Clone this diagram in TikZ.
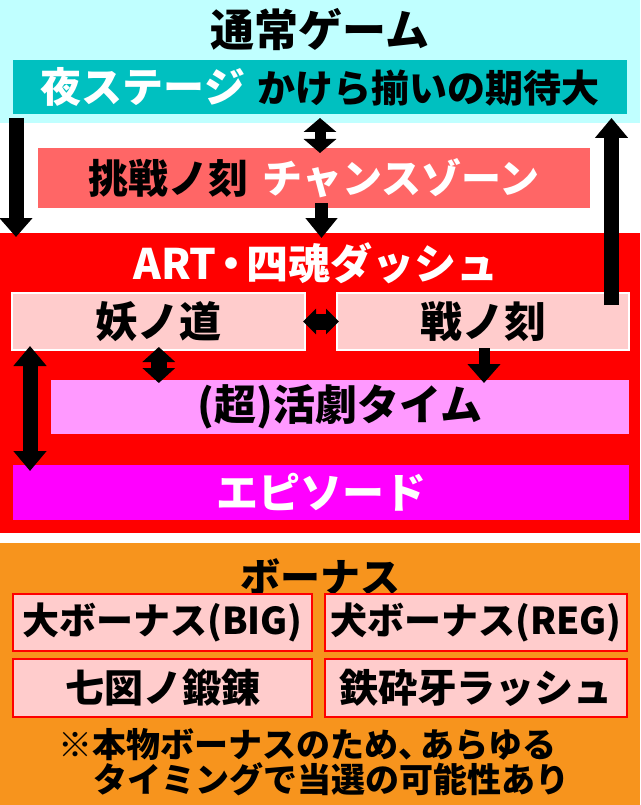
\documentclass[tikz,border=0pt]{standalone}
\usepackage{fontspec}
\setmainfont{Noto Sans CJK JP Black}
\usetikzlibrary{arrows.meta,calc}
\definecolor{cyanbg}{HTML}{C0FFFF}
\definecolor{tealbox}{HTML}{00C0C0}
\definecolor{salmon}{HTML}{FF6666}
\definecolor{pale}{HTML}{FFCCCC}
\definecolor{pinkbox}{HTML}{FF99FF}
\definecolor{magbox}{HTML}{FF00FF}
\definecolor{orangebg}{HTML}{F7941D}
\newcommand{\fs}[1]{\fontsize{#1}{#1}\selectfont}
\begin{document}
\begin{tikzpicture}[x=1pt,y=-1pt,
  box/.style={anchor=north west, inner sep=0pt, outer sep=0pt, align=center},
  ttl/.style={inner sep=0pt, outer sep=0pt},
  onearrow/.style n args={4}{line width=#1, -{Triangle[width=#2,length=#3]}},
  twoarrow/.style n args={3}{line width=#1, {Triangle[width=#2,length=#3]}-{Triangle[width=#2,length=#3]}}
]
\useasboundingbox (0,0) rectangle (640,805);
% backgrounds
\fill[white] (0,0) rectangle (640,805);
\fill[cyanbg] (0,0) rectangle (640,123);
\fill[red] (0,233) rectangle (640,533);
\fill[orangebg] (0,543) rectangle (640,805);

% normal game
\node[ttl] (tnormal) at (320,30) {\fs{44}通常ゲーム};
\node[box, fill=tealbox, minimum width=614pt, minimum height=54pt] (night) at (13,60)
  {{\fs{41}\color{white}夜ステージ}\hspace{12pt}{\fs{38}かけら揃いの期待大}};
\node[box, fill=salmon, minimum width=552pt, minimum height=60pt] (chance) at (38,148)
  {\fs{40}挑戦ノ刻\hspace{14pt}{\color{white}チャンスゾーン}};

% ART
\node[ttl, text=white] (tart) at (316,263) {\fs{42}ART\hspace{-6pt}・\hspace{-6pt}四魂ダッシュ};
\node[box, fill=pale, draw=white, line width=1.5pt, minimum width=293pt, minimum height=57pt] (ayakashi) at (12,293) {\fs{42}妖ノ道};
\node[box, fill=pale, draw=white, line width=1.5pt, minimum width=292pt, minimum height=57pt] (ikusa) at (337,293) {\fs{42}戦ノ刻};
\node[box, fill=pinkbox, minimum width=578pt, minimum height=54pt] (katsugeki) at (51,380) {\fs{42}(超)活劇タイム};
\node[box, fill=magbox, text=white, minimum width=616pt, minimum height=55pt] (episode) at (13,465) {\fs{42}エピソード};

% bonus
\node[ttl] (tbonus) at (320,577) {\fs{40}ボーナス};
\node[box, fill=pale, draw=red, line width=1.5pt, minimum width=299pt, minimum height=57pt] (big) at (13,594) {\fs{37}大ボーナス(BIG)};
\node[box, fill=pale, draw=red, line width=1.5pt, minimum width=302pt, minimum height=57pt] (reg) at (325,594) {\fs{37}犬ボーナス(REG)};
\node[box, fill=pale, draw=red, line width=1.5pt, minimum width=299pt, minimum height=58pt] (nanazu) at (13,659) {\fs{39}七図ノ鍛錬};
\node[box, fill=pale, draw=red, line width=1.5pt, minimum width=302pt, minimum height=58pt] (tessai) at (325,659) {\fs{39}鉄砕牙ラッシュ};
\node[ttl, anchor=west] (note1) at (58,745) {\fs{34}※本物ボーナスのため、\hspace{-12pt}あらゆる};
\node[ttl, anchor=west] (note2) at (93,779) {\fs{34}タイミングで当選の可能性あり};

% arrow end points
\coordinate (a1s) at (16,118);   \coordinate (a1e) at (16,237);
\coordinate (a2s) at (611.5,305); \coordinate (a2e) at (611.5,118);
\coordinate (a3s) at (320,118);  \coordinate (a3e) at (320,153);
\coordinate (a4s) at (321.5,203); \coordinate (a4e) at (321.5,238);
\coordinate (a5s) at (303,321.5); \coordinate (a5e) at (339,321.5);
\coordinate (a6s) at (158.8,347); \coordinate (a6e) at (158.8,383);
\coordinate (a7s) at (484,348);  \coordinate (a7e) at (484,383);
\coordinate (a8s) at (30,346);   \coordinate (a8e) at (30,471);

\draw[onearrow={15pt}{32pt}{19pt}{}] (a1s) -- (a1e);
\draw[onearrow={15pt}{32pt}{20pt}{}] (a2s) -- (a2e);
\draw[twoarrow={11pt}{32pt}{14pt}] (a3s) -- (a3e);
\draw[onearrow={13pt}{31pt}{20pt}{}] (a4s) -- (a4e);
\draw[twoarrow={16pt}{25pt}{13pt}] (a5s) -- (a5e);
\draw[twoarrow={16pt}{32pt}{15pt}] (a6s) -- (a6e);
\draw[onearrow={11pt}{32pt}{19pt}{}] (a7s) -- (a7e);
\draw[twoarrow={15pt}{32pt}{20pt}] (a8s) -- (a8e);
\end{tikzpicture}
\end{document}
